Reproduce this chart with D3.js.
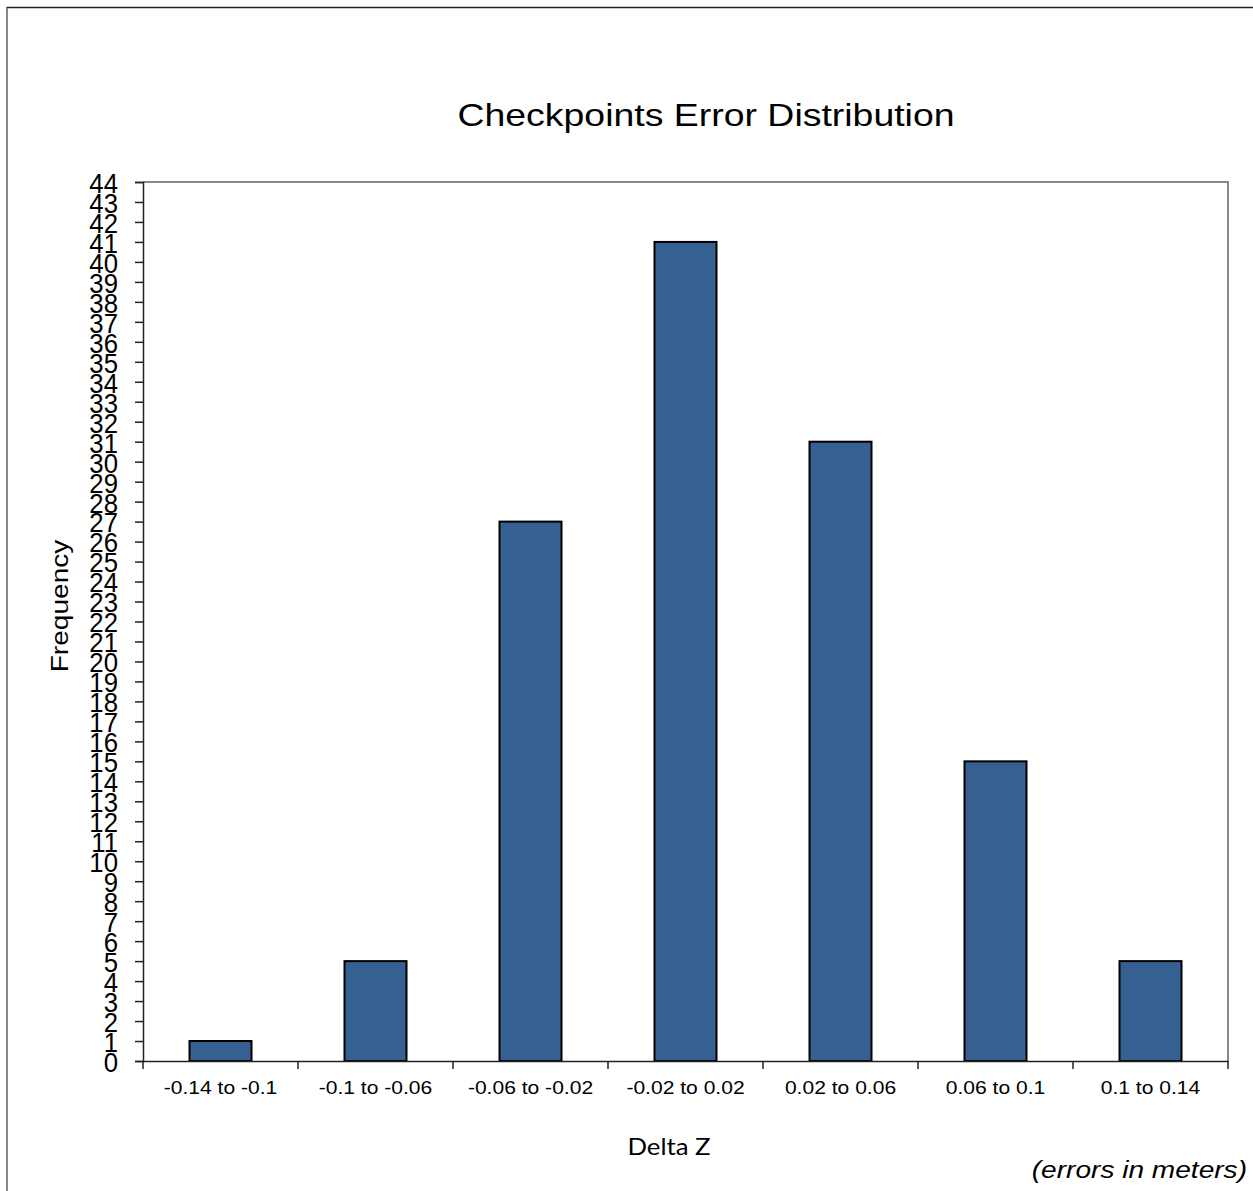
<!DOCTYPE html>
<html>
<head>
<meta charset="utf-8">
<script src="https://cdn.jsdelivr.net/npm/d3@7"></script>
<style>
  html, body { margin: 0; padding: 0; background: #fff; }
  svg { display: block; }
</style>
</head>
<body>
<svg id="chart" width="1253" height="1191"></svg>
<script>
// Histogram bins of checkpoint Delta Z errors and their counts
const categories = ["-0.14 to -0.1", "-0.1 to -0.06", "-0.06 to -0.02", "-0.02 to 0.02", "0.02 to 0.06", "0.06 to 0.1", "0.1 to 0.14"];
const frequencies = [1, 5, 27, 41, 31, 15, 5];
const yTicks = d3.range(0, 45);

const svg = d3.select("#chart");
const W = 1253, H = 1191;
const plot = { left: 143, top: 182, right: 1228, bottom: 1061 };
const FONT = "Liberation Sans, Arial, sans-serif";
const WIDEN = 1.17; // text in this chart is set slightly wide

// Outer frame: grey left edge, dark top edge
svg.append("line").attr("x1", 7).attr("x2", 7).attr("y1", 7).attr("y2", H)
  .attr("stroke", "#888").attr("stroke-width", 2);
svg.append("line").attr("x1", 7).attr("x2", W).attr("y1", 7.5).attr("y2", 7.5)
  .attr("stroke", "#222").attr("stroke-width", 1.5);

const x = d3.scaleBand().domain(categories).range([plot.left, plot.right]).padding(0);
const y = d3.scaleLinear().domain([0, 44]).range([plot.bottom, plot.top]);

// Plot area top/right border
svg.append("path")
  .attr("d", `M${plot.left},${plot.top}H${plot.right}V${plot.bottom}`)
  .attr("fill", "none").attr("stroke", "#888").attr("stroke-width", 2);

// Bars, 40% of each category slot, centred
const barW = x.bandwidth() * 0.4;
svg.append("g").selectAll("rect")
  .data(frequencies)
  .join("rect")
  .attr("x", (d, i) => x(categories[i]) + (x.bandwidth() - barW) / 2)
  .attr("y", d => y(d))
  .attr("width", barW)
  .attr("height", d => y(0) - y(d))
  .attr("fill", "#376092")
  .attr("stroke", "#000")
  .attr("stroke-width", 2);

// Y axis with crowded integer ticks
const yAxis = svg.append("g")
  .attr("transform", `translate(${plot.left},0)`)
  .call(d3.axisLeft(y).tickValues(yTicks).tickFormat(d3.format("d")).tickSize(8).tickPadding(0));
yAxis.select(".domain").attr("stroke", "#222").attr("stroke-width", 1.5);
yAxis.selectAll(".tick line").attr("stroke", "#222").attr("stroke-width", 1.5);
yAxis.selectAll(".tick text")
  .attr("x", 0).attr("dy", null)
  .attr("font-family", FONT)
  .attr("font-size", 28)
  .attr("fill", "#000")
  .attr("text-anchor", "end")
  .attr("dominant-baseline", "central")
  .attr("transform", "translate(-25,1) scale(0.92,1)");

// X axis: ticks at category boundaries
const xAxis = svg.append("g")
  .attr("transform", `translate(0,${plot.bottom})`)
  .call(d3.axisBottom(x).tickSize(0).tickPadding(0));
xAxis.select(".domain").attr("stroke", "#222").attr("stroke-width", 1.5);
xAxis.selectAll(".tick line").remove();
xAxis.selectAll(".tick text")
  .attr("y", 0).attr("dy", null)
  .attr("font-family", FONT)
  .attr("font-size", 18)
  .attr("fill", "#000")
  .attr("transform", `translate(0,33) scale(${WIDEN},1)`);
const bounds = categories.map(c => x(c)).concat([x(categories[categories.length - 1]) + x.bandwidth()]);
svg.append("g").selectAll("line")
  .data(bounds)
  .join("line")
  .attr("x1", d => d).attr("x2", d => d)
  .attr("y1", plot.bottom).attr("y2", plot.bottom + 8)
  .attr("stroke", "#222").attr("stroke-width", 1.5);

// Titles
svg.append("text")
  .attr("transform", `translate(706,126) scale(${WIDEN},1)`)
  .attr("text-anchor", "middle")
  .attr("font-family", FONT)
  .attr("font-size", 32)
  .attr("fill", "#000")
  .text("Checkpoints Error Distribution");

svg.append("text")
  .attr("transform", `translate(68,606) rotate(-90) scale(${WIDEN},1)`)
  .attr("text-anchor", "middle")
  .attr("font-family", FONT)
  .attr("font-size", 24)
  .attr("fill", "#000")
  .text("Frequency");

svg.append("text")
  .attr("transform", `translate(669,1155) scale(1.12,1)`)
  .attr("text-anchor", "middle")
  .attr("font-family", "Lato, 'Open Sans', sans-serif")
  .attr("font-size", 23)
  .attr("fill", "#000")
  .text("Delta Z");

svg.append("text")
  .attr("transform", `translate(1247,1178) scale(${WIDEN},1)`)
  .attr("text-anchor", "end")
  .attr("font-family", FONT)
  .attr("font-style", "italic")
  .attr("font-size", 24)
  .attr("fill", "#000")
  .text("(errors in meters)");
</script>
</body>
</html>
